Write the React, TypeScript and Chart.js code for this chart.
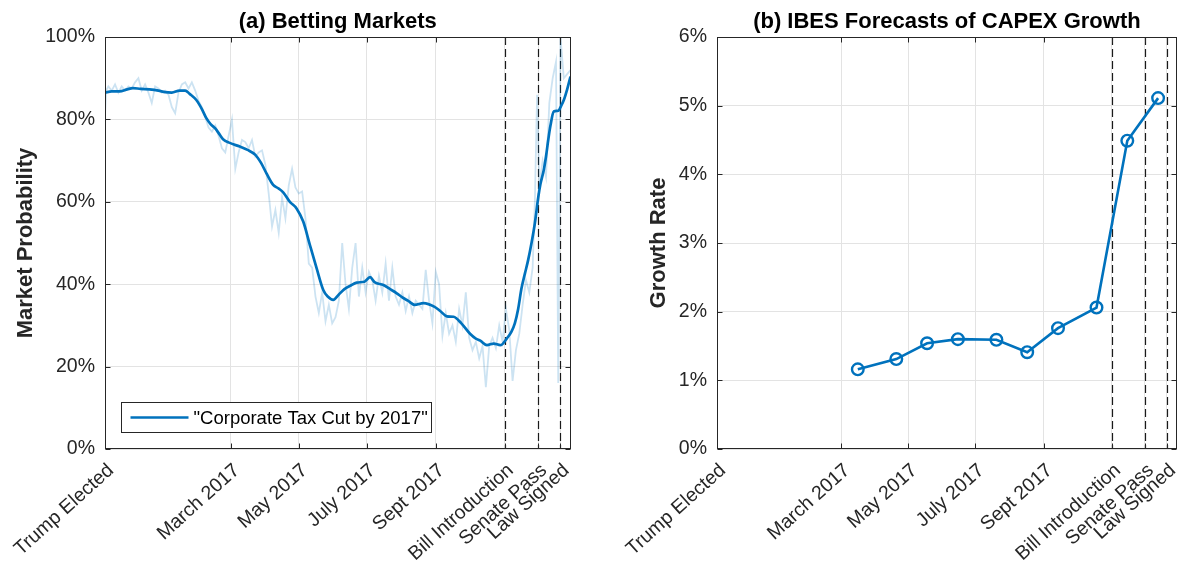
import React, { useEffect, useRef } from "react";
import { Chart, registerables } from "chart.js";

Chart.register(...registerables);

// ---------- style constants ----------
const BLUE = "#0072BD";
const LIGHT_BLUE = "rgba(0,114,189,0.2)";
const AXIS = "#262626";
const GRID = "#e3e3e3";
const FONT = "'Liberation Sans', Arial, Helvetica, sans-serif";

// ---------- data ----------
// x axis: days since Nov 8, 2016 (election day); axis ends Dec 31, 2017
const X_MAX = 418;
const TICK_DAYS = [0, 113, 174, 235, 297, 359, 389, 409];
const TICK_LABELS = [
  "Trump Elected",
  "March 2017",
  "May 2017",
  "July 2017",
  "Sept 2017",
  "Bill Introduction",
  "Senate Pass",
  "Law Signed",
];
const EVENT_DAYS = [359, 389, 409]; // Bill Introduction, Senate Pass, Law Signed

// Panel (a): daily betting market probability (%)
const BET_DAYS = [
  0, 1, 3, 6, 9, 12, 15, 18, 21, 24, 27,
  30, 33, 36, 39, 42, 45, 48, 51, 54, 57,
  60, 63, 66, 69, 72, 75, 78, 81, 84, 87,
  90, 93, 96, 99, 102, 105, 108, 111, 114, 117,
  120, 123, 126, 129, 132, 135, 138, 141, 144, 147,
  150, 153, 156, 159, 162, 165, 168, 171, 174, 177,
  180, 183, 186, 189, 192, 195, 198, 201, 204, 207,
  210, 213, 216, 219, 222, 225, 228, 231, 234, 237,
  240, 243, 246, 249, 252, 255, 258, 261, 264, 267,
  270, 273, 276, 279, 282, 285, 288, 291, 294, 297,
  300, 303, 306, 309, 312, 315, 318, 321, 324, 327,
  330, 333, 336, 339, 342, 345, 348, 351, 354, 357,
  360, 363, 366, 369, 372, 375, 378, 381, 384, 386, 388,
  390, 393, 396, 399, 402, 405, 407, 409, 412, 415, 418,
];
const BET_RAW = [
  81, 87, 88, 87, 88.5, 86.5, 88, 87, 88, 87.5, 89,
  90, 87, 88.5, 86.5, 84, 88, 87.5, 86.5, 87, 86,
  83, 81.5, 86.5, 88.5, 89, 87.5, 89, 87, 84.5, 83,
  80.5, 78, 77, 78.5, 76, 73, 72, 76, 80, 68,
  72, 75, 74.5, 73, 75, 71, 72, 72.5, 69, 62,
  54, 58, 52.5, 61, 56, 64, 68, 63.5, 62, 62.5,
  56, 45, 44, 37, 33, 38, 31, 35, 30.5, 32,
  36, 50, 40, 34, 44, 50, 37, 44, 38, 43,
  41, 36, 42, 38, 45, 36, 44, 37, 35, 38,
  33.5, 37, 33, 36, 35, 34, 43.5, 36, 30.5, 43,
  40, 27.5, 33, 28, 30, 26, 34, 30, 38, 27,
  24, 26, 22, 25, 15, 25, 27, 24.5, 30, 26,
  34, 29, 16.5, 24, 28, 35, 41, 38, 44, 60, 86,
  64, 70, 66, 84, 90, 94, 16, 100, 90, 91, 92,
];

// Panel (a): smoothed probability (%)
const SMOOTH_DAYS = [
  0, 6, 13, 20, 25, 32, 40, 48, 54, 60, 67, 72, 76, 82, 87, 91, 95, 99, 103, 106,
  112, 121, 128, 135, 140, 145, 151, 156, 160, 166, 172, 178, 184, 190, 196, 200,
  205, 210, 215, 220, 226, 233, 238, 242, 250, 256, 262, 267, 272, 278, 286, 296,
  301, 307, 313, 320, 328, 333, 337, 343, 349, 355, 361, 365, 368, 371, 374, 377,
  380, 383, 386, 389, 391, 394, 396, 398, 400, 403, 407, 410, 412, 415, 418,
];
const SMOOTH_VALUES = [
  86.5, 86.8, 86.8, 87.3, 87.6, 87.4, 87.3, 87.0, 86.6, 86.5, 87.0, 87.0, 86.2, 84.7,
  82.5, 80.3, 78.8, 77.8, 76.3, 75.2, 74.3, 73.4, 72.6, 71.4, 69.5, 66.9, 64.1, 63.2,
  62.3, 60.0, 58.4, 55.2, 49.5, 43.9, 38.6, 37.0, 36.2, 37.5, 38.8, 39.6, 40.4, 40.6,
  41.7, 40.5, 39.8, 38.8, 37.8, 36.8, 36.0, 35.0, 35.4, 34.5, 33.5, 32.2, 32.1, 30.5,
  27.9, 26.8, 26.3, 25.2, 25.6, 25.2, 26.9, 28.5, 30.5, 34.0, 39.0, 42.5, 45.9, 50.0,
  54.8, 61.0, 64.3, 67.7, 71.0, 75.0, 78.5, 81.9, 82.1, 83.5, 84.7, 87.3, 90.4,
];
const BET_LEGEND = '"Corporate Tax Cut by 2017"';

// Panel (b): IBES forecast of CAPEX growth (%)
const IBES_DAYS = [128, 163, 191, 219, 254, 282, 310, 345, 373, 401];
const IBES_GROWTH = [1.16, 1.31, 1.54, 1.6, 1.59, 1.41, 1.76, 2.06, 4.49, 5.11];

// ---------- helpers ----------
const tickFont = { family: FONT, size: 19.5 };
const boldFont = { family: FONT, size: 22, weight: "bold" as const };

const decorPlugin = {
  id: "decor",
  beforeDatasetsDraw(chart: any) {
    const { ctx, chartArea: a, scales } = chart;
    const x = scales.x;
    ctx.save();
    ctx.strokeStyle = "#1a1a1a";
    ctx.lineWidth = 1.2;
    ctx.setLineDash([8, 4]);
    for (const d of EVENT_DAYS) {
      const px = Math.round(x.getPixelForValue(d)) + 0.5;
      ctx.beginPath();
      ctx.moveTo(px, a.top);
      ctx.lineTo(px, a.bottom);
      ctx.stroke();
    }
    ctx.restore();
  },
  afterDraw(chart: any, _args: any, opts: any) {
    const { ctx, chartArea: a, scales } = chart;
    ctx.save();
    ctx.strokeStyle = AXIS;
    ctx.lineWidth = 1;
    const L = Math.round(a.left) + 0.5;
    const R = Math.round(a.right) - 0.5;
    const T = Math.round(a.top) + 0.5;
    const B = Math.round(a.bottom) - 0.5;
    ctx.strokeRect(L, T, R - L, B - T);
    const tl = 5;
    ctx.beginPath();
    for (const t of scales.y.ticks) {
      const py = Math.round(scales.y.getPixelForValue(t.value)) + 0.5;
      ctx.moveTo(L, py);
      ctx.lineTo(L + tl, py);
      ctx.moveTo(R, py);
      ctx.lineTo(R - tl, py);
    }
    for (const t of scales.x.ticks) {
      const px = Math.round(scales.x.getPixelForValue(t.value)) + 0.5;
      ctx.moveTo(px, B);
      ctx.lineTo(px, B - tl);
      ctx.moveTo(px, T);
      ctx.lineTo(px, T + tl);
    }
    ctx.stroke();

    if (opts && opts.legend) {
      const ds = chart.data.datasets[opts.legendIndex];
      const bx = Math.round(a.left) + 16.5;
      const bh = 30;
      const by = Math.round(a.bottom) - 16.5 - bh;
      const bw = 310;
      ctx.fillStyle = "#ffffff";
      ctx.fillRect(bx, by, bw, bh);
      ctx.strokeStyle = AXIS;
      ctx.lineWidth = 1;
      ctx.strokeRect(bx, by, bw, bh);
      const my = by + bh / 2;
      ctx.strokeStyle = ds.borderColor;
      ctx.lineWidth = ds.borderWidth;
      ctx.beginPath();
      ctx.moveTo(bx + 9, my);
      ctx.lineTo(bx + 67, my);
      ctx.stroke();
      ctx.fillStyle = "#000";
      ctx.font = `18.5px ${FONT}`;
      ctx.textBaseline = "middle";
      ctx.textAlign = "left";
      ctx.fillText(ds.label, bx + 72, my + 1);
    }
    ctx.restore();
  },
};

function xScale() {
  return {
    type: "linear" as const,
    min: 0,
    max: X_MAX,
    afterBuildTicks: (s: any) => {
      s.ticks = TICK_DAYS.map((v) => ({ value: v }));
    },
    afterFit: (s: any) => {
      s.height = 112;
      s.paddingLeft = 0;
      s.paddingRight = 0;
    },
    ticks: {
      autoSkip: false,
      minRotation: 42,
      maxRotation: 42,
      padding: 10,
      labelOffset: 6,
      color: AXIS,
      font: tickFont,
      callback: (v: any) => TICK_LABELS[TICK_DAYS.indexOf(v)] ?? "",
    },
    grid: { color: GRID, drawTicks: false, lineWidth: 1 },
    border: { display: false },
  };
}

function yScale(
  min: number,
  max: number,
  step: number,
  width: number,
  title: string,
  titlePad: number
) {
  return {
    min,
    max,
    afterFit: (s: any) => {
      s.width = width;
      s.paddingTop = 0;
      s.paddingBottom = 0;
    },
    ticks: {
      stepSize: step,
      padding: 10,
      color: AXIS,
      font: tickFont,
      callback: (v: any) => `${v}%`,
    },
    grid: { color: GRID, drawTicks: false, lineWidth: 1 },
    border: { display: false },
    title: {
      display: true,
      text: title,
      color: AXIS,
      font: boldFont,
      padding: { top: titlePad, bottom: 0 },
    },
  };
}

function titleOpts(text: string) {
  return {
    display: true,
    text,
    fullSize: false,
    color: "#000",
    font: boldFont,
    padding: { top: 9, bottom: 1.6 },
  };
}

export default function App() {
  const leftRef = useRef<HTMLCanvasElement>(null);
  const rightRef = useRef<HTMLCanvasElement>(null);

  useEffect(() => {
    const left = new Chart(leftRef.current as HTMLCanvasElement, {
      type: "line",
      data: {
        datasets: [
          {
            label: "Daily",
            data: BET_DAYS.map((d, i) => ({ x: d, y: BET_RAW[i] })),
            borderColor: LIGHT_BLUE,
            borderWidth: 1.8,
            pointRadius: 0,
            tension: 0,
          },
          {
            label: BET_LEGEND,
            data: SMOOTH_DAYS.map((d, i) => ({ x: d, y: SMOOTH_VALUES[i] })),
            borderColor: BLUE,
            borderWidth: 2.7,
            pointRadius: 0,
            cubicInterpolationMode: "monotone",
          },
        ],
      },
      options: {
        animation: false,
        responsive: false,
        devicePixelRatio: 1,
        layout: { padding: { left: 0, right: 21.5, top: 0, bottom: 0 } },
        plugins: {
          legend: { display: false },
          tooltip: { enabled: false },
          title: titleOpts("(a) Betting Markets"),
          decor: { legend: true, legendIndex: 1 },
        } as any,
        scales: {
          x: xScale() as any,
          y: yScale(0, 100, 20, 105, "Market Probability", 13) as any,
        },
      },
      plugins: [decorPlugin],
    });

    const right = new Chart(rightRef.current as HTMLCanvasElement, {
      type: "line",
      data: {
        datasets: [
          {
            label: "IBES CAPEX growth forecast",
            data: IBES_DAYS.map((d, i) => ({ x: d, y: IBES_GROWTH[i] })),
            borderColor: BLUE,
            borderWidth: 2.6,
            pointRadius: 5.8,
            pointBorderWidth: 2.4,
            pointBorderColor: BLUE,
            pointBackgroundColor: "rgba(0,0,0,0)",
            tension: 0,
          },
        ],
      },
      options: {
        animation: false,
        responsive: false,
        devicePixelRatio: 1,
        layout: { padding: { left: 0, right: 3, top: 0, bottom: 0 } },
        plugins: {
          legend: { display: false },
          tooltip: { enabled: false },
          title: titleOpts("(b) IBES Forecasts of CAPEX Growth"),
          decor: { legend: false },
        } as any,
        scales: {
          x: xScale() as any,
          y: yScale(0, 6, 1, 125, "Growth Rate", 54) as any,
        },
      },
      plugins: [decorPlugin],
    });

    return () => {
      left.destroy();
      right.destroy();
    };
  }, []);

  return (
    <div
      style={{
        position: "absolute",
        left: 0,
        top: 0,
        width: 1185,
        height: 561,
        background: "#ffffff",
        overflow: "hidden",
      }}
    >
      <canvas
        ref={leftRef}
        width={592}
        height={561}
        style={{ position: "absolute", left: 0, top: 0, width: 592, height: 561 }}
      />
      <canvas
        ref={rightRef}
        width={593}
        height={561}
        style={{ position: "absolute", left: 592, top: 0, width: 593, height: 561 }}
      />
    </div>
  );
}
